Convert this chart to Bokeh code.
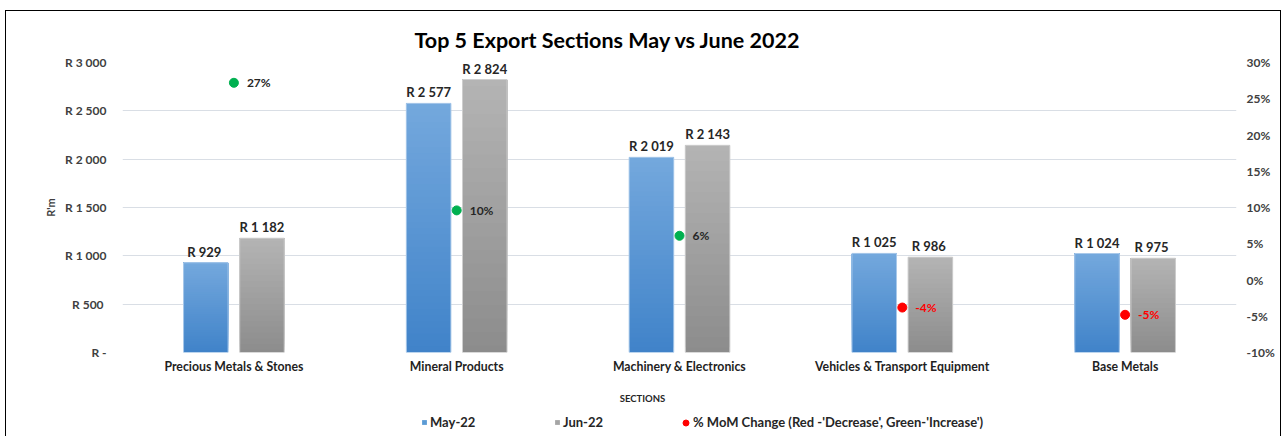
from bokeh.plotting import figure
from bokeh.models import (ColumnDataSource, Range1d, LinearAxis, FixedTicker, Label,
                          Legend, LegendItem, NumeralTickFormatter, Spacer)
from bokeh.layouts import column, row
from bokeh.core.properties import value
from bokeh.embed import file_html
from bokeh.resources import INLINE

# ---------------- data ----------------
categories = ["Precious Metals & Stones", "Mineral Products", "Machinery & Electronics",
              "Vehicles & Transport Equipment", "Base Metals"]
may_22 = [929, 2577, 2019, 1025, 1024]
jun_22 = [1182, 2824, 2143, 986, 975]
may_labels = ["R  929", "R 2 577", "R 2 019", "R 1 025", "R 1 024"]
jun_labels = ["R 1 182", "R 2 824", "R 2 143", "R  986", "R  975"]
mom_change = [0.272, 0.096, 0.061, -0.038, -0.048]
mom_labels = ["27%", "10%", "6%", "-4%", "-5%"]
left_ticks = [0, 500, 1000, 1500, 2000, 2500, 3000]
left_tick_labels = ["R -", "R  500", "R 1 000", "R 1 500", "R 2 000", "R 2 500", "R 3 000"]
right_ticks = [-0.10, -0.05, 0.0, 0.05, 0.10, 0.15, 0.20, 0.25, 0.30]
legend_labels = ["May-22", "Jun-22", "% MoM Change (Red -'Decrease', Green-'Increase')"]

FONT = "Lato"
centers = [i + 0.5 for i in range(len(categories))]
BAR_W = 0.2
OFF = 0.126
W = 1274

p = figure(width=W, height=374, output_backend="svg", toolbar_location=None,
           x_range=Range1d(0, len(categories)), y_range=Range1d(0, 3000),
           min_border_left=116, min_border_right=44, min_border_top=51, min_border_bottom=33)
p.outline_line_color = None
p.extra_y_ranges = {"pct": Range1d(-0.10, 0.30)}

# title (above)
p.title.text = "Top 5 Export Sections May vs June 2022"
p.title.align = "left"
p.title.offset = 292
p.title.text_font = FONT
p.title.text_font_style = "bold"
p.title.text_font_size = "21.5px"
p.title.text_color = "#000000"
p.title.standoff = 20

# grid
p.xgrid.visible = False
p.ygrid.grid_line_color = "#D9DEE5"
p.ygrid.ticker = FixedTicker(ticks=left_ticks)

# axes
xa = p.xaxis[0]
xa.ticker = FixedTicker(ticks=centers)
xa.major_label_overrides = {c: n for c, n in zip(centers, categories)}
ya = p.yaxis[0]
ya.ticker = FixedTicker(ticks=left_ticks)
ya.major_label_overrides = {t: s for t, s in zip(left_ticks, left_tick_labels)}
ya.axis_label = "R'm"
ya.axis_label_standoff = 5
ya.axis_label_text_font = FONT
ya.axis_label_text_font_style = "bold"
ya.axis_label_text_font_size = "11px"
ya.axis_label_text_color = "#404040"
ra = LinearAxis(y_range_name="pct", ticker=FixedTicker(ticks=right_ticks),
                formatter=NumeralTickFormatter(format="0%"))
p.add_layout(ra, "right")
for ax, so in ((xa, 0), (ya, 10), (ra, 4)):
    ax.axis_line_color = None
    ax.major_tick_line_color = None
    ax.minor_tick_line_color = None
    ax.major_label_text_font = FONT
    ax.major_label_text_font_style = "bold"
    ax.major_label_text_font_size = "12px"
    ax.major_label_text_color = "#404040"
    ax.major_label_standoff = so
xa.major_label_text_color = "#1F1F1F"
xa.major_label_text_font_size = "12.3px"


def mix(c1, c2, t):
    return "#%02x%02x%02x" % tuple(int(round(a + (b - a) * t)) for a, b in zip(c1, c2))


# gradient bars built from the values (each layer painted from its level up to the top)
N = 40
def grad_bars(values, xoff, top_rgb, bot_rgb, edge):
    xs, bots, tops, cols = [], [], [], []
    for k in range(N):
        for c, v in zip(centers, values):
            xs.append(c + xoff)
            bots.append(v * k / N)
            tops.append(v)
            cols.append(mix(bot_rgb, top_rgb, (k + 0.5) / N))
    src = ColumnDataSource(dict(x=xs, bottom=bots, top=tops, color=cols))
    p.vbar(x="x", bottom="bottom", top="top", width=BAR_W, source=src,
           fill_color="color", line_color=None)
    osrc = ColumnDataSource(dict(x=[c + xoff for c in centers], top=values))
    p.vbar(x="x", top="top", bottom=0, width=BAR_W, source=osrc,
           fill_color=None, line_color=edge, line_width=1)

grad_bars(may_22, -OFF, (116, 168, 221), (64, 131, 201), "#A9C9EA")
grad_bars(jun_22, OFF, (180, 180, 180), (140, 140, 140), "#CFCFCF")

# bar value labels
lab_style = dict(text_font=value(FONT), text_font_style="bold", text_font_size="13px",
                 text_color="#262626", text_align="center", text_baseline="bottom", y_offset=-3)
src_m = ColumnDataSource(dict(x=[c - OFF for c in centers], y=may_22, t=may_labels))
src_j = ColumnDataSource(dict(x=[c + OFF for c in centers], y=jun_22, t=jun_labels))
p.text(x="x", y="y", text="t", source=src_m, **lab_style)
p.text(x="x", y="y", text="t", source=src_j, **lab_style)

# MoM change points
pt_cols = ["#00B050" if v >= 0 else "#FF0000" for v in mom_change]
txt_cols = ["#262626" if v >= 0 else "#FF0000" for v in mom_change]
src_p = ColumnDataSource(dict(x=centers, y=mom_change, c=pt_cols, tc=txt_cols, t=mom_labels))
p.scatter(x="x", y="y", source=src_p, y_range_name="pct", size=9,
          fill_color="c", line_color="c")
p.text(x="x", y="y", text="t", source=src_p, y_range_name="pct", x_offset=13,
       text_font=value(FONT), text_font_style="bold", text_font_size="12px",
       text_color="tc", text_align="left", text_baseline="middle")

# ---------------- bottom strip: axis title + legend ----------------
q = figure(width=W, height=51, output_backend="svg", toolbar_location=None,
           x_range=Range1d(0, 1), y_range=Range1d(0, 1), min_border=0)
q.outline_line_color = None
q.axis.visible = False
q.grid.visible = False
q.add_layout(Label(x=520, y=38, x_units="screen", y_units="screen", text="SECTIONS",
                   text_font=FONT, text_font_style="bold", text_font_size="9.5px",
                   text_color="#262626", text_align="center", text_baseline="middle"))

# legend proxies (lie outside the strip's ranges, only their swatches are shown)
r_may = q.vbar(x=[-5], top=[-5], bottom=[-6], width=0.1, fill_color="#5B9BD5", line_color=None)
r_jun = q.vbar(x=[-5], top=[-5], bottom=[-6], width=0.1, fill_color="#A5A5A5", line_color=None)
r_pct = q.scatter(x=[-5], y=[-5], size=7, fill_color="#FF0000", line_color="#FF0000")

leg_common = dict(orientation="horizontal", padding=0, margin=0, label_height=15,
                  border_line_color=None, background_fill_alpha=0,
                  label_text_font=FONT, label_text_font_style="bold",
                  label_text_font_size="13px", label_text_color="#262626")
q.add_layout(Legend(items=[LegendItem(label=legend_labels[0], renderers=[r_may])],
                    location=(299, 6), glyph_width=6, glyph_height=6, label_standoff=3,
                    **leg_common))
q.add_layout(Legend(items=[LegendItem(label=legend_labels[1], renderers=[r_jun])],
                    location=(432, 6), glyph_width=6, glyph_height=6, label_standoff=3,
                    **leg_common))
q.add_layout(Legend(items=[LegendItem(label=legend_labels[2], renderers=[r_pct])],
                    location=(556, 6), glyph_width=15, glyph_height=15, label_standoff=0,
                    **leg_common))

box = column(p, q, spacing=0, styles={"outline": "1.5px solid #000000"})
layout = row(Spacer(width=6), column(Spacer(height=11), box, spacing=0), spacing=0)

open("out.html", "w").write(file_html(layout, INLINE))
